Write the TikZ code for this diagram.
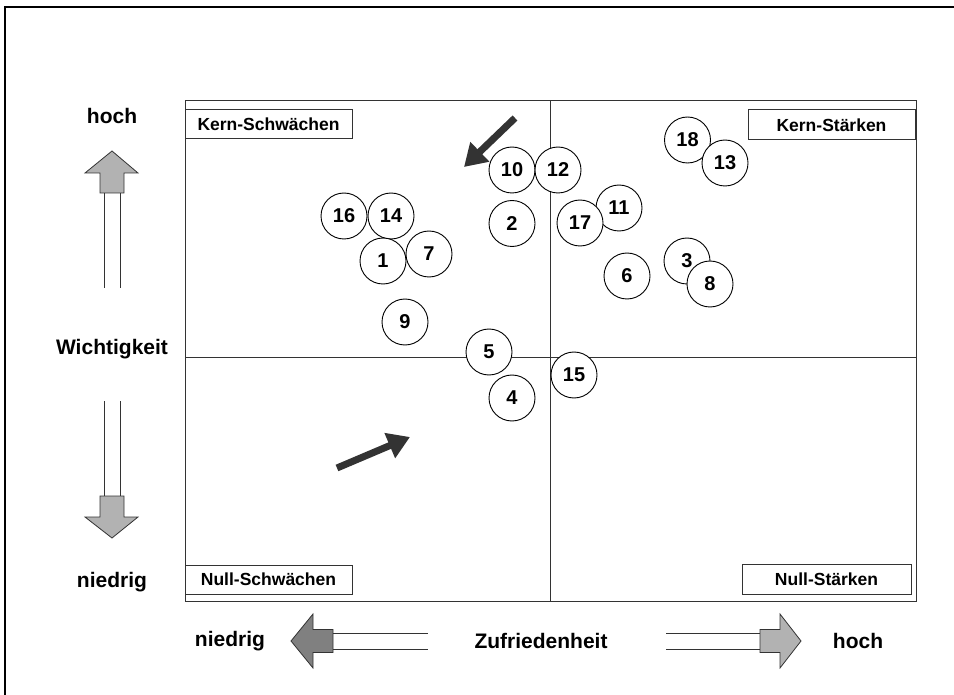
\documentclass[tikz,border=0pt]{standalone}
\usepackage{fontspec}
\setmainfont{Liberation Sans}
\usetikzlibrary{arrows.meta}
\definecolor{linegray}{HTML}{333333}
\definecolor{arrowdark}{HTML}{333333}
\definecolor{blockgray}{HTML}{B2B2B2}
\definecolor{blockdark}{HTML}{808080}
\tikzset{
  num/.style={circle, draw=black, line width=0.9pt, fill=white, minimum size=46pt, inner sep=0pt, font=\fontsize{20}{20}\selectfont\bfseries},
  lab/.style={rectangle, draw=linegray, line width=1pt, fill=white, inner sep=0pt, font=\fontsize{17.5}{17.5}\selectfont\bfseries},
  axis/.style={inner sep=0pt, font=\fontsize{21}{21}\selectfont\bfseries},
  blk/.style={draw=linegray, line width=0.8pt},
  thin/.style={draw=linegray, line width=1pt},
  trend/.style={line width=7pt, arrowdark, -{Triangle[length=22pt,width=26pt]}}
}
\begin{document}
\begin{tikzpicture}[x=1pt,y=-1pt]
\useasboundingbox (0,0) rectangle (954,695);
% outer frame
\draw[line width=2.5pt, black] (5,695) -- (5,7) -- (954,7);
% main box
\draw[thin] (185,101) rectangle (916,601);
\draw[thin] (550,101) -- (550,601);
\draw[thin] (185,357) -- (916,357);
% quadrant labels
\node[lab, minimum width=167pt, minimum height=29pt] (ks) at (268.5,124.5) {Kern-Schwächen};
\node[lab, minimum width=167pt, minimum height=30pt] (kst) at (831.5,125) {Kern-Stärken};
\node[lab, minimum width=167pt, minimum height=29pt] (ns) at (268.5,579.5) {Null-Schwächen};
\node[lab, minimum width=169pt, minimum height=30pt] (nst) at (826.5,579) {Null-Stärken};
% trend arrows
\coordinate (t1a) at (337,468); \coordinate (t1b) at (410,437);
\coordinate (t2a) at (515,118); \coordinate (t2b) at (464,167);
\draw[trend] (t1a) -- (t1b);
\draw[trend] (t2a) -- (t2b);
% circles
\node[num] (c10) at (512,170) {10};
\node[num] (c12) at (558,170) {12};
\node[num] (c2) at (512,223.5) {2};
\node[num] (c16) at (344,216) {16};
\node[num] (c14) at (391,216) {14};
\node[num] (c1) at (383,261) {1};
\node[num] (c7) at (429,254) {7};
\node[num] (c9) at (405,322) {9};
\node[num] (c5) at (489,352) {5};
\node[num] (c4) at (512,398) {4};
\node[num] (c15) at (574,375) {15};
\node[num] (c11) at (619,208) {11};
\node[num] (c17) at (580,223) {17};
\node[num] (c6) at (627,276) {6};
\node[num] (c3) at (687,261) {3};
\node[num] (c8) at (710,284) {8};
\node[num] (c18) at (687.5,140) {18};
\node[num] (c13) at (725,163) {13};
% vertical axis
\node[axis] (hochL) at (112,116) {hoch};
\node[axis] (wicht) at (112,349) {Wichtigkeit};
\node[axis] (niedL) at (112,582) {niedrig};
\draw[blk, fill=blockgray] (112,151) -- (138,173) -- (124,173) -- (124,193) -- (100,193) -- (100,173) -- (85,173) -- cycle;
\draw[thin] (104,193) -- (104,288);
\draw[thin] (120,193) -- (120,288);
\draw[blk, fill=blockgray] (112,538) -- (138,517) -- (124,517) -- (124,496) -- (100,496) -- (100,517) -- (85,517) -- cycle;
\draw[thin] (104,401) -- (104,496);
\draw[thin] (120,401) -- (120,496);
% horizontal axis
\node[axis] (niedB) at (230,641) {niedrig};
\node[axis] (zuf) at (541,641) {Zufriedenheit};
\node[axis] (hochB) at (858,641) {hoch};
\draw[blk, fill=blockdark] (291,641) -- (313,614) -- (313,629.5) -- (333,629.5) -- (333,652.5) -- (313,652.5) -- (313,668) -- cycle;
\draw[thin] (333,633) -- (428,633);
\draw[thin] (333,649) -- (428,649);
\draw[blk, fill=blockgray] (801,641) -- (780,614) -- (780,629.5) -- (760,629.5) -- (760,652.5) -- (780,652.5) -- (780,668) -- cycle;
\draw[thin] (666,633) -- (760,633);
\draw[thin] (666,649) -- (760,649);
\end{tikzpicture}
\end{document}
